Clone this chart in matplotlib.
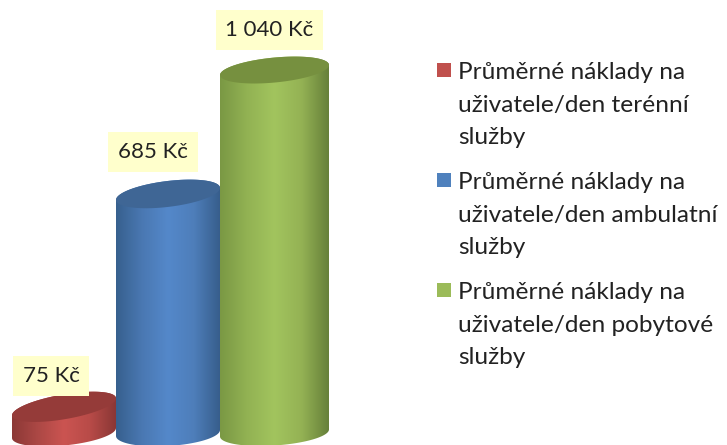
import numpy as np
import matplotlib
matplotlib.use('Agg')
import matplotlib.pyplot as plt
from matplotlib.colors import LinearSegmentedColormap
from matplotlib.patches import PathPatch, Rectangle
from matplotlib.path import Path

plt.rcParams['font.family'] = ['Lato', 'DejaVu Sans']

values = [75, 685, 1040]
value_labels = ['75 Kč', '685 Kč', '1 040 Kč']
series_names = ['Průměrné náklady na\nuživatele/den terénní\nslužby',
                'Průměrné náklady na\nuživatele/den ambulatní\nslužby',
                'Průměrné náklady na\nuživatele/den pobytové\nslužby']

legend_colors = ['#C0504D', '#4F81BD', '#9BBB59']
side_colors = [['#8C3836', '#AC4845', '#CB5451', '#B84B48', '#8A3735'],
               ['#37608E', '#4A78B2', '#5488CA', '#4E7EBA', '#375E8C'],
               ['#7A9844', '#92B253', '#A2C45E', '#94B254', '#66803A']]
top_colors = ['#953B39', '#3F6695', '#76903F']

centers = [64, 168, 274.5]
half_widths = [52, 52, 54.5]
half_heights = [12.5, 13, 12.5]
top_shear = [8.5, 6, 5]
bottom_shear = [5, 3, 3.5]
label_offsets = [(-13, 31), (-15, 42), (-5, 40)]
legend_tops = [63, 173, 283]

PX_PER_KC = 0.349
BASE_PX = 433
W, H = 727, 445


def ellipse_points(cx, cy, a, b, shear, t):
    x = cx + a*np.cos(t)
    y = cy + (b*np.sin(t) + shear*np.cos(t))/PX_PER_KC
    return x, y


def draw_cylinder(ax, i):
    cx, a, b = centers[i], half_widths[i], half_heights[i]
    # body: lower half of the base, then upper half of the top
    t_low = np.linspace(np.pi, 2*np.pi, 60)
    t_up = np.linspace(0, np.pi, 60)
    xb, yb = ellipse_points(cx, 0, a, b, bottom_shear[i], t_low)
    xt, yt = ellipse_points(cx, values[i], a, b, top_shear[i], t_up)
    body = np.r_[np.c_[xb, yb], np.c_[xt, yt]]
    clip = PathPatch(Path(np.r_[body, body[:1]]), fc='none', ec='none')
    ax.add_patch(clip)
    cmap = LinearSegmentedColormap.from_list('side', side_colors[i])
    grad = np.linspace(0, 1, 256)[None, :]
    im = ax.imshow(grad, cmap=cmap, aspect='auto', interpolation='bilinear',
                   extent=(cx-a, cx+a, -100, values[i]+100), zorder=i*2+1)
    im.set_clip_path(clip)
    t = np.linspace(0, 2*np.pi, 120)
    x, y = ellipse_points(cx, values[i], a, b, top_shear[i], t)
    ax.fill(x, y, color=top_colors[i], lw=0, zorder=i*2+2)


fig = plt.figure(figsize=(7.27, 4.45), dpi=100)
ax = fig.add_axes([0, 0, 1, 1])
for i in range(len(values)):
    draw_cylinder(ax, i)
ax.set_xlim(0, W)
ax.set_ylim((BASE_PX-H)/PX_PER_KC, BASE_PX/PX_PER_KC)
ax.axis('off')

for i, label in enumerate(value_labels):
    dx, dy = label_offsets[i]
    ax.annotate(label, (centers[i], values[i]),
                xytext=(dx*0.72, dy*0.72), textcoords='offset points',
                ha='center', va='center', fontsize=16, color='#222222', zorder=10,
                bbox=dict(facecolor='#FFFFCC', edgecolor='none', pad=7))

# legend by hand, the squares sit on the first text line
for name, c, top in zip(series_names, legend_colors, legend_tops):
    ax.add_patch(Rectangle((437/W, 1-(top+14)/H), 14/W, 14/H, transform=ax.transAxes,
                           fc=c, ec='none'))
    ax.text(458/W, 1-(top-1)/H, name, transform=ax.transAxes, va='top', ha='left',
            fontsize=17.6, color='#222222', linespacing=1.68)

fig.savefig('out.png', dpi=100)
